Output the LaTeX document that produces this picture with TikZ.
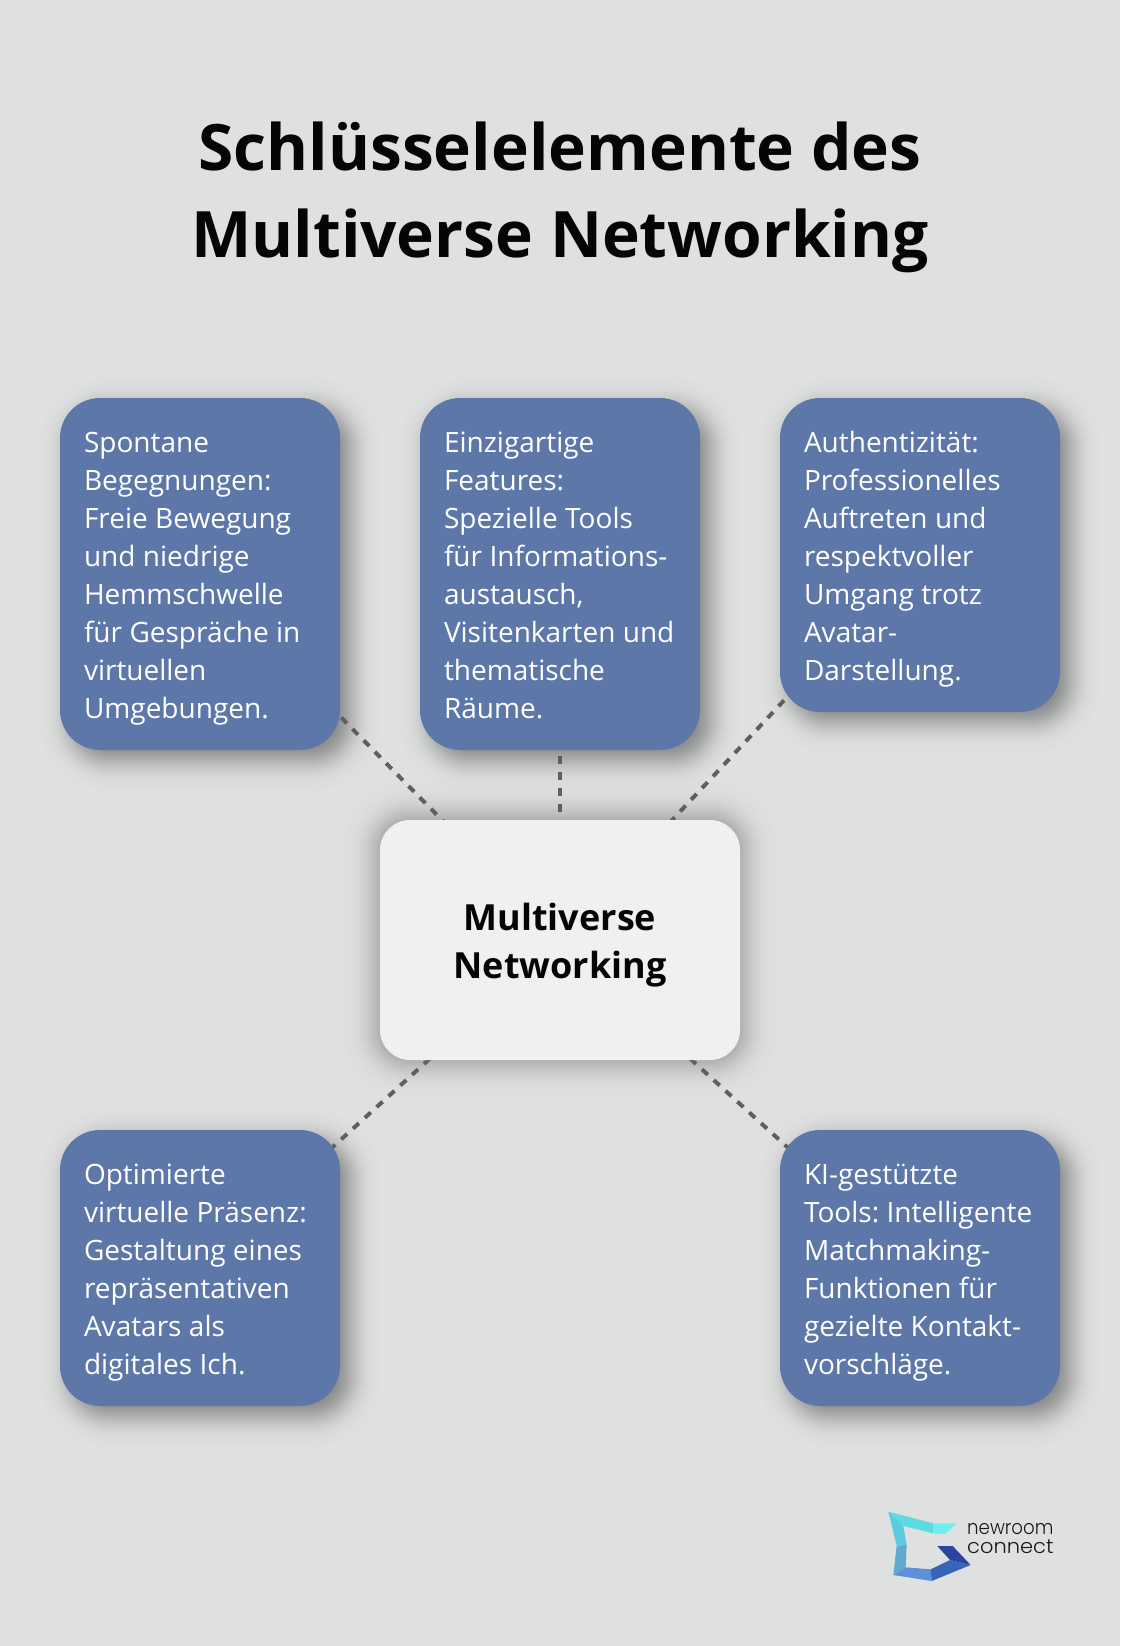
\documentclass[tikz,border=0pt]{standalone}
\usepackage{fontspec}
\usepackage{graphicx}
\setmainfont{Open Sans}
\newfontfamily\logofont{Poppins Light}
\usetikzlibrary{calc}
\definecolor{bgc}{HTML}{DFE1E0}
\definecolor{boxc}{HTML}{5D77A9}
\definecolor{midc}{HTML}{EFF0F2}
\definecolor{dashc}{HTML}{5F5F5F}
\definecolor{titlec}{HTML}{050505}
\pgfdeclarelayer{bglayer}
\pgfdeclarelayer{shadowlayer}
\pgfdeclarelayer{linelayer}
\pgfsetlayers{bglayer,shadowlayer,linelayer,main}
\newcommand{\bstrut}{\rule[-8pt]{0pt}{38pt}}
\tikzset{
  infobox/.style={fill=boxc,text=white,rounded corners=40pt,anchor=center,inner xsep=24pt,inner ysep=0pt,
    text width=232pt,align=left,font=\fontsize{28}{38}\selectfont,
    execute at begin node={\spaceskip=7.4pt\relax\bstrut},execute at end node=\bstrut},
  midbox/.style={fill=midc,text=titlec,rounded corners=30pt,anchor=center,inner sep=0pt,text width=360pt,minimum height=240pt,
    align=center,font=\fontsize{36}{48}\selectfont\bfseries,
    execute at begin node={\rule{0pt}{38pt}},execute at end node={\rule[-10pt]{0pt}{10pt}}},
  link/.style={draw=dashc,line width=4pt,dash pattern=on 8pt off 8pt},
  titletext/.style={text=titlec,align=center,inner sep=0pt,font=\fontsize{64}{87}\selectfont\bfseries},
  logotext/.style={text=black!90,anchor=base west,inner sep=0pt,font=\logofont\fontsize{20}{20}\selectfont},
}
% soft shadow: node, dx, dy, radius, sigma, opacity per layer (48 layers at normal quantiles)
\newcommand{\softshadow}[6]{%
  \foreach \z in {2.31,1.86,1.62,1.45,1.32,1.20,1.10,1.01,.925,.85,.775,.71,.64,.58,.52,.46,.40,.345,.29,.24,.185,.13,.08,.026,-.026,-.08,-.13,-.185,-.24,-.29,-.345,-.40,-.46,-.52,-.58,-.64,-.71,-.775,-.85,-.925,-1.01,-1.10,-1.20,-1.32,-1.45,-1.62,-1.86,-2.31}{%
    \pgfmathsetmacro{\e}{\z*#5}%
    \pgfmathsetmacro{\rr}{max(2,#4+\e)}%
    \fill[black,opacity=#6,rounded corners=\rr pt]
      ($(#1.north west)+(#2-\e,#3-\e)$) rectangle ($(#1.south east)+(#2+\e,#3+\e)$);
  }%
}
\newcommand{\facet}[2]{\fill[#1] #2 -- cycle;}
\begin{document}
\begin{tikzpicture}[x=1pt,y=-1pt]
\useasboundingbox (0,0) rectangle (1120,1646);
\begin{pgfonlayer}{bglayer}
\fill[bgc] (0,0) rectangle (1120,1646);
\end{pgfonlayer}
\node[titletext] (title) at (560,197.5) {Schlüsselelemente des\\Multiverse Networking};
\node[infobox,minimum height=352pt] (a) at (200,574) {Spontane\\Begegnungen:\\Freie~Bewegung\\und~niedrige\\Hemmschwelle\\für~Gespräche~in\\virtuellen\\Umgebungen.};
\node[infobox,minimum height=352pt] (b) at (560,574) {Einzigartige\\Features:\\Spezielle~Tools\\für~Informations-\\austausch,\\Visitenkarten~und\\thematische\\Räume.};
\node[infobox,minimum height=314pt] (c) at (920,555) {Authentizität:\\Professionelles\\Auftreten~und\\respektvoller\\Umgang~trotz\\Avatar-\\Darstellung.};
\node[midbox] (m) at (560,940) {Multiverse\\Networking};
\node[infobox,minimum height=276pt] (d) at (200,1268) {Optimierte\\virtuelle~Präsenz:\\Gestaltung~eines\\repräsentativen\\Avatars~als\\digitales~Ich.};
\node[infobox,minimum height=276pt] (e) at (920,1268) {KI-gestützte\\Tools:~Intelligente\\Matchmaking-\\Funktionen~für\\gezielte~Kontakt-\\vorschläge.};
\begin{pgfonlayer}{shadowlayer}
  \softshadow{a}{10}{10}{40}{13}{0.0085}
  \softshadow{b}{10}{10}{40}{13}{0.0085}
  \softshadow{c}{10}{10}{40}{13}{0.0085}
  \softshadow{d}{10}{10}{40}{13}{0.0085}
  \softshadow{e}{10}{10}{40}{13}{0.0085}
  \softshadow{m}{0}{0}{30}{16}{0.0072}
\end{pgfonlayer}
\begin{pgfonlayer}{linelayer}
  \foreach \t in {a,b,c,d,e} \draw[link] (m.center) -- (\t.center);
\end{pgfonlayer}
% logo
\begin{scope}[shift={(860,1480)},x=0.3333pt,y=-0.3333pt]
  \facet{color={rgb,255:red,92;green,203;blue,224}}{(85,95)--(130,138)--(140,195)--(110,197)}
  \facet{color={rgb,255:red,92;green,219;blue,227}}{(85,95)--(220,130)--(220,160)--(130,138)}
  \facet{color={rgb,255:red,110;green,238;blue,238}}{(220,130)--(290,130)--(255,162)--(220,160)}
  \facet{color={rgb,255:red,98;green,169;blue,208}}{(110,197)--(140,195)--(137,262)--(100,285)}
  \facet{color={rgb,255:red,95;green,143;blue,214}}{(100,285)--(137,262)--(212,268)--(215,303)}
  \facet{color={rgb,255:red,53;green,102;blue,184}}{(212,268)--(270,240)--(332,255)--(215,303)}
  \facet{color={rgb,255:red,44;green,67;blue,160}}{(270,240)--(232,198)--(278,198)--(332,255)}
\end{scope}
\node[logotext] (l1) at (967,1534) {\scalebox{0.91}[1]{newroom}};
\node[logotext] (l2) at (967,1553) {\scalebox{1.05}[1]{connect}};
\end{tikzpicture}
\end{document}
